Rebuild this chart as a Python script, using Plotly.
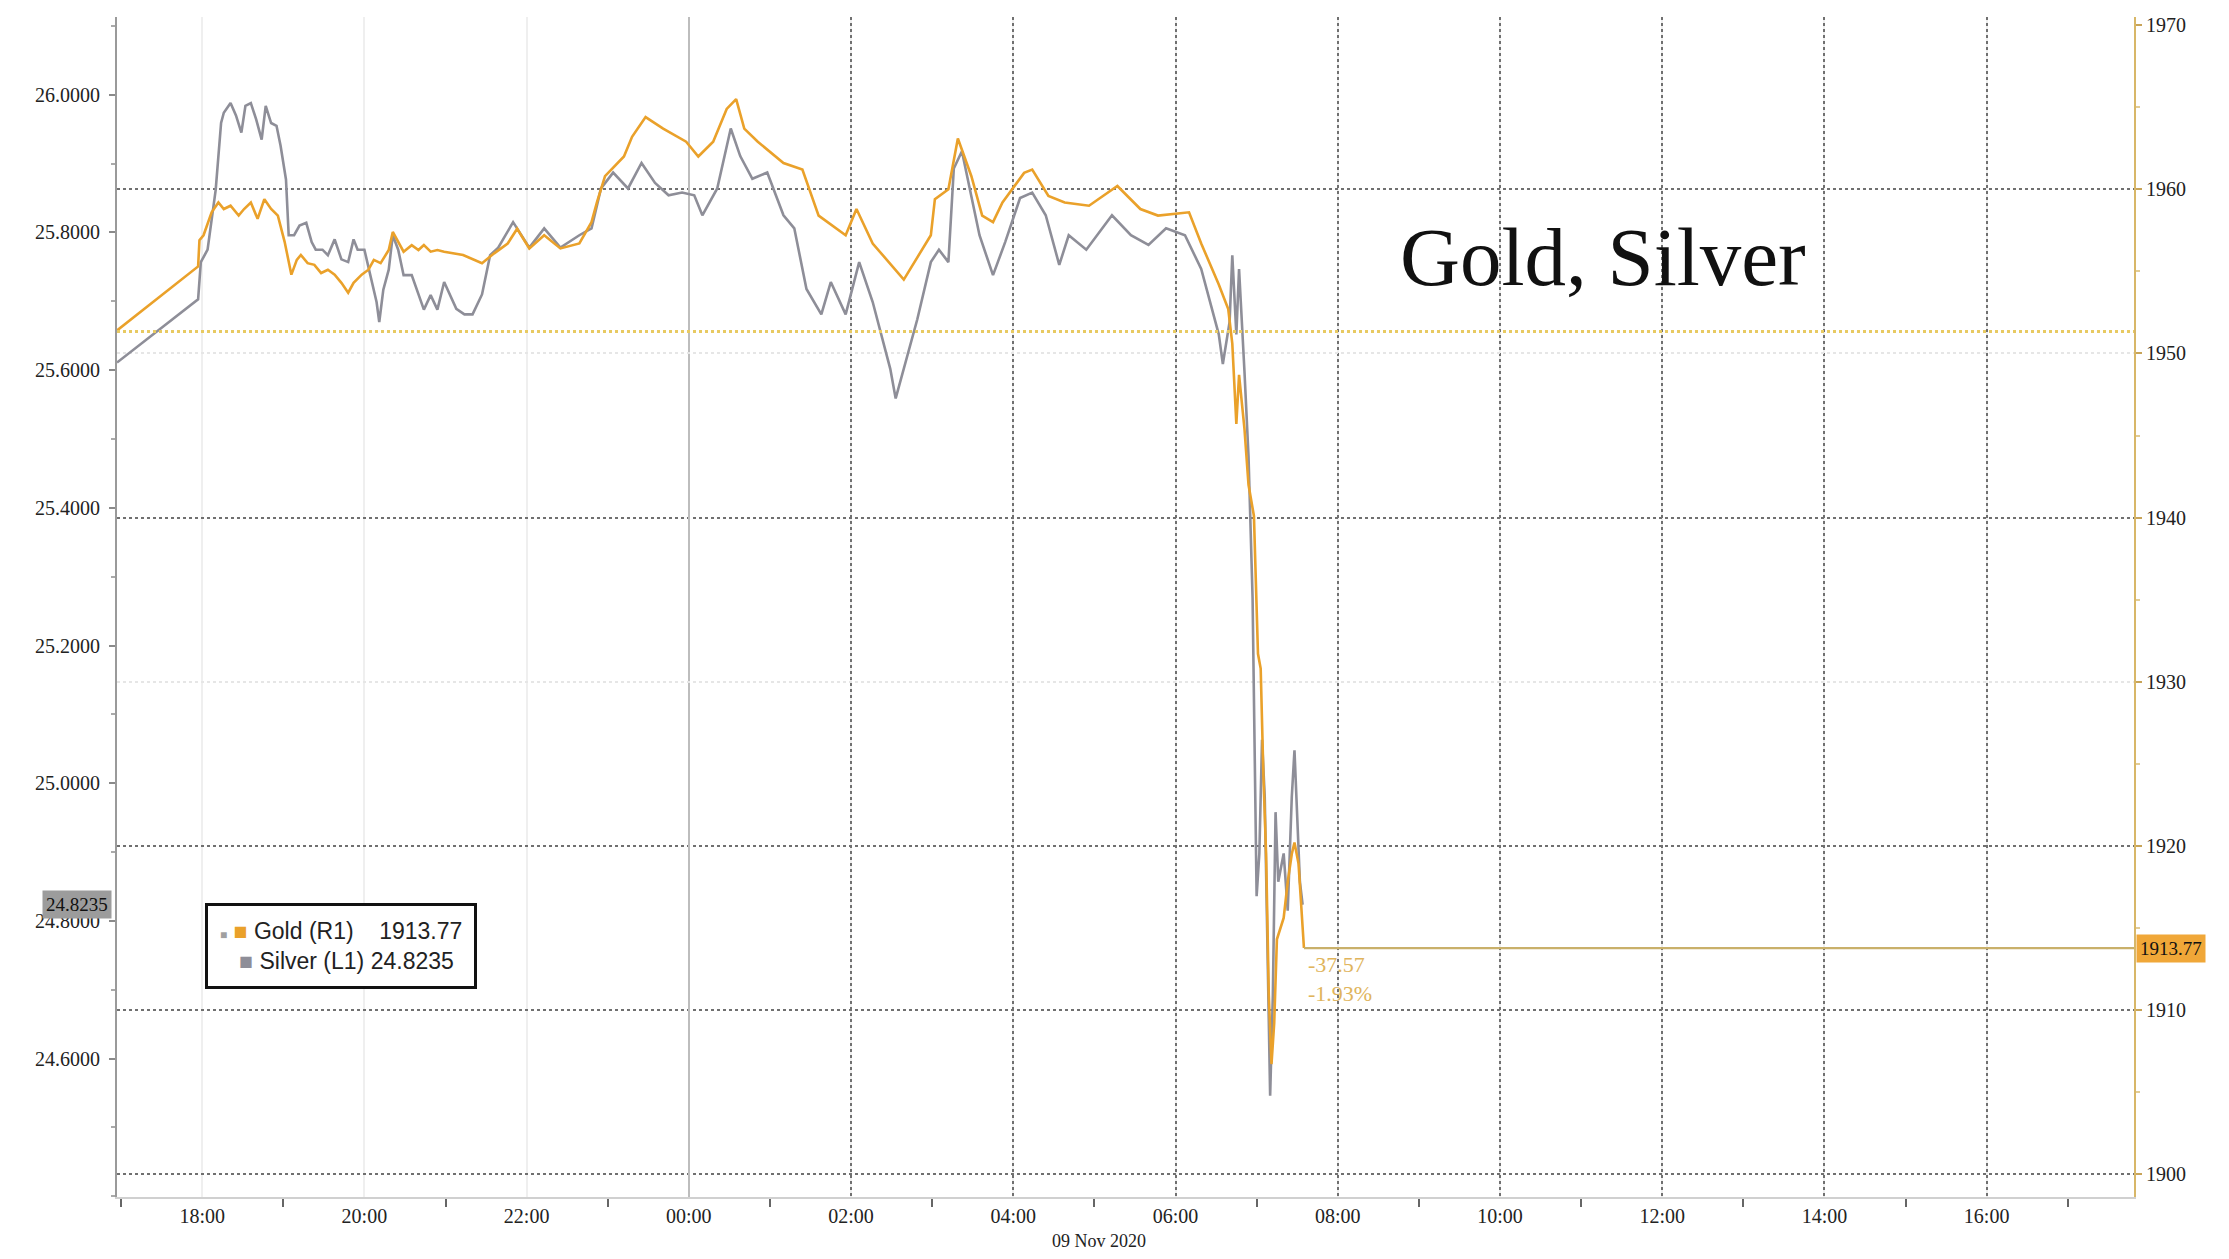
import plotly.graph_objects as go

# ---------------- data ----------------
gold_time = [
    "2020-11-08 16:57", "2020-11-08 17:57", "2020-11-08 17:58", "2020-11-08 18:01", "2020-11-08 18:07",
    "2020-11-08 18:12", "2020-11-08 18:16", "2020-11-08 18:21", "2020-11-08 18:27", "2020-11-08 18:31",
    "2020-11-08 18:36", "2020-11-08 18:41", "2020-11-08 18:46", "2020-11-08 18:51", "2020-11-08 18:56",
    "2020-11-08 19:01", "2020-11-08 19:06", "2020-11-08 19:10", "2020-11-08 19:13", "2020-11-08 19:18",
    "2020-11-08 19:23", "2020-11-08 19:28", "2020-11-08 19:33", "2020-11-08 19:38", "2020-11-08 19:43",
    "2020-11-08 19:48", "2020-11-08 19:52", "2020-11-08 19:58", "2020-11-08 20:03", "2020-11-08 20:07",
    "2020-11-08 20:12", "2020-11-08 20:18", "2020-11-08 20:21", "2020-11-08 20:25", "2020-11-08 20:29",
    "2020-11-08 20:35", "2020-11-08 20:40", "2020-11-08 20:44", "2020-11-08 20:49", "2020-11-08 20:54",
    "2020-11-08 20:59", "2020-11-08 21:13", "2020-11-08 21:27", "2020-11-08 21:36", "2020-11-08 21:46",
    "2020-11-08 21:53", "2020-11-08 22:02", "2020-11-08 22:13", "2020-11-08 22:25", "2020-11-08 22:39",
    "2020-11-08 22:48", "2020-11-08 22:52", "2020-11-08 22:58", "2020-11-08 23:12", "2020-11-08 23:18",
    "2020-11-08 23:28", "2020-11-08 23:41", "2020-11-08 23:58", "2020-11-09 00:07", "2020-11-09 00:18",
    "2020-11-09 00:28", "2020-11-09 00:35", "2020-11-09 00:41", "2020-11-09 00:51", "2020-11-09 01:01",
    "2020-11-09 01:10", "2020-11-09 01:24", "2020-11-09 01:36", "2020-11-09 01:56", "2020-11-09 02:04",
    "2020-11-09 02:16", "2020-11-09 02:39", "2020-11-09 02:59", "2020-11-09 03:02", "2020-11-09 03:12",
    "2020-11-09 03:19", "2020-11-09 03:29", "2020-11-09 03:37", "2020-11-09 03:45", "2020-11-09 03:52",
    "2020-11-09 04:08", "2020-11-09 04:14", "2020-11-09 04:26", "2020-11-09 04:38", "2020-11-09 04:56",
    "2020-11-09 05:17", "2020-11-09 05:34", "2020-11-09 05:47", "2020-11-09 06:10", "2020-11-09 06:19",
    "2020-11-09 06:32", "2020-11-09 06:39", "2020-11-09 06:42", "2020-11-09 06:45", "2020-11-09 06:47",
    "2020-11-09 06:51", "2020-11-09 06:54", "2020-11-09 06:58", "2020-11-09 07:01", "2020-11-09 07:03",
    "2020-11-09 07:05", "2020-11-09 07:07", "2020-11-09 07:09", "2020-11-09 07:11", "2020-11-09 07:13",
    "2020-11-09 07:15", "2020-11-09 07:20", "2020-11-09 07:23", "2020-11-09 07:26", "2020-11-09 07:28",
    "2020-11-09 07:31", "2020-11-09 07:33", "2020-11-09 07:35",
]
gold_value = [
    1951.4, 1955.3, 1956.9, 1957.2, 1958.6,
    1959.2, 1958.8, 1959.0, 1958.4, 1958.8,
    1959.2, 1958.2, 1959.4, 1958.8, 1958.4,
    1956.8, 1954.8, 1955.7, 1956.0, 1955.5,
    1955.4, 1954.9, 1955.1, 1954.8, 1954.3,
    1953.7, 1954.3, 1954.8, 1955.1, 1955.7,
    1955.5, 1956.3, 1957.4, 1956.8, 1956.2,
    1956.6, 1956.3, 1956.6, 1956.2, 1956.3,
    1956.2, 1956.0, 1955.5, 1956.1, 1956.7,
    1957.6, 1956.4, 1957.2, 1956.4, 1956.7,
    1958.0, 1959.2, 1960.8, 1962.0, 1963.2,
    1964.4, 1963.7, 1962.9, 1962.0, 1962.9,
    1964.9, 1965.5, 1963.7, 1962.9, 1962.2,
    1961.6, 1961.2, 1958.4, 1957.2, 1958.8,
    1956.7, 1954.5, 1957.2, 1959.4, 1960.0,
    1963.1, 1960.8, 1958.4, 1958.0, 1959.2,
    1961.0, 1961.2, 1959.6, 1959.2, 1959.0,
    1960.2, 1958.8, 1958.4, 1958.6, 1956.7,
    1954.2, 1952.7, 1950.6, 1945.7, 1948.7,
    1945.4, 1942.0, 1940.1, 1931.7, 1930.8,
    1924.3, 1919.5, 1910.9, 1906.7, 1909.2,
    1914.3, 1915.6, 1917.8, 1919.5, 1920.2,
    1918.9, 1916.2, 1913.77,
]

silver_time = [
    "2020-11-08 16:57", "2020-11-08 17:57", "2020-11-08 17:59", "2020-11-08 18:04", "2020-11-08 18:10",
    "2020-11-08 18:14", "2020-11-08 18:16", "2020-11-08 18:21", "2020-11-08 18:25", "2020-11-08 18:29",
    "2020-11-08 18:32", "2020-11-08 18:36", "2020-11-08 18:40", "2020-11-08 18:44", "2020-11-08 18:47",
    "2020-11-08 18:51", "2020-11-08 18:55", "2020-11-08 18:58", "2020-11-08 19:02", "2020-11-08 19:04",
    "2020-11-08 19:08", "2020-11-08 19:12", "2020-11-08 19:17", "2020-11-08 19:21", "2020-11-08 19:24",
    "2020-11-08 19:29", "2020-11-08 19:33", "2020-11-08 19:38", "2020-11-08 19:43", "2020-11-08 19:48",
    "2020-11-08 19:52", "2020-11-08 19:55", "2020-11-08 20:00", "2020-11-08 20:05", "2020-11-08 20:09",
    "2020-11-08 20:11", "2020-11-08 20:14", "2020-11-08 20:18", "2020-11-08 20:21", "2020-11-08 20:25",
    "2020-11-08 20:29", "2020-11-08 20:35", "2020-11-08 20:40", "2020-11-08 20:44", "2020-11-08 20:49",
    "2020-11-08 20:54", "2020-11-08 20:59", "2020-11-08 21:08", "2020-11-08 21:14", "2020-11-08 21:20",
    "2020-11-08 21:27", "2020-11-08 21:33", "2020-11-08 21:39", "2020-11-08 21:50", "2020-11-08 22:02",
    "2020-11-08 22:13", "2020-11-08 22:25", "2020-11-08 22:39", "2020-11-08 22:48", "2020-11-08 22:55",
    "2020-11-08 23:04", "2020-11-08 23:15", "2020-11-08 23:25", "2020-11-08 23:35", "2020-11-08 23:45",
    "2020-11-08 23:55", "2020-11-09 00:04", "2020-11-09 00:10", "2020-11-09 00:21", "2020-11-09 00:31",
    "2020-11-09 00:38", "2020-11-09 00:47", "2020-11-09 00:58", "2020-11-09 01:10", "2020-11-09 01:18",
    "2020-11-09 01:27", "2020-11-09 01:38", "2020-11-09 01:45", "2020-11-09 01:56", "2020-11-09 02:06",
    "2020-11-09 02:16", "2020-11-09 02:29", "2020-11-09 02:33", "2020-11-09 02:39", "2020-11-09 02:49",
    "2020-11-09 02:59", "2020-11-09 03:05", "2020-11-09 03:12", "2020-11-09 03:16", "2020-11-09 03:22",
    "2020-11-09 03:29", "2020-11-09 03:35", "2020-11-09 03:45", "2020-11-09 03:54", "2020-11-09 04:05",
    "2020-11-09 04:14", "2020-11-09 04:24", "2020-11-09 04:34", "2020-11-09 04:41", "2020-11-09 04:54",
    "2020-11-09 05:13", "2020-11-09 05:27", "2020-11-09 05:40", "2020-11-09 05:53", "2020-11-09 06:07",
    "2020-11-09 06:19", "2020-11-09 06:32", "2020-11-09 06:35", "2020-11-09 06:40", "2020-11-09 06:42",
    "2020-11-09 06:45", "2020-11-09 06:47", "2020-11-09 06:51", "2020-11-09 06:54", "2020-11-09 06:57",
    "2020-11-09 06:59", "2020-11-09 07:00", "2020-11-09 07:02", "2020-11-09 07:04", "2020-11-09 07:06",
    "2020-11-09 07:08", "2020-11-09 07:10", "2020-11-09 07:12", "2020-11-09 07:14", "2020-11-09 07:16",
    "2020-11-09 07:20", "2020-11-09 07:23", "2020-11-09 07:26", "2020-11-09 07:28", "2020-11-09 07:30",
    "2020-11-09 07:32", "2020-11-09 07:34",
]
silver_value = [
    25.611, 25.703, 25.757, 25.775, 25.862,
    25.959, 25.974, 25.988, 25.970, 25.945,
    25.984, 25.988, 25.964, 25.935, 25.984,
    25.959, 25.955, 25.926, 25.877, 25.796,
    25.796, 25.810, 25.814, 25.786, 25.775,
    25.775, 25.767, 25.790, 25.761, 25.757,
    25.790, 25.775, 25.775, 25.732, 25.699,
    25.670, 25.717, 25.746, 25.796, 25.775,
    25.738, 25.738, 25.709, 25.688, 25.709,
    25.688, 25.728, 25.689, 25.681, 25.681,
    25.710, 25.767, 25.778, 25.815, 25.778,
    25.806, 25.778, 25.796, 25.806, 25.864,
    25.887, 25.864, 25.901, 25.872, 25.854,
    25.858, 25.854, 25.825, 25.864, 25.951,
    25.911, 25.878, 25.887, 25.825, 25.806,
    25.718, 25.681, 25.728, 25.681, 25.757,
    25.699, 25.602, 25.559, 25.602, 25.674,
    25.757, 25.775, 25.757, 25.893, 25.918,
    25.854, 25.796, 25.738, 25.786, 25.850,
    25.858, 25.825, 25.753, 25.796, 25.775,
    25.825, 25.796, 25.782, 25.806, 25.796,
    25.747, 25.652, 25.609, 25.670, 25.767,
    25.652, 25.747, 25.598, 25.475, 25.269,
    24.980, 24.836, 24.898, 25.063, 24.980,
    24.733, 24.546, 24.692, 24.958, 24.857,
    24.898, 24.815, 24.980, 25.048, 24.939,
    24.857, 24.8235,
]

gold_prev_close = 1951.34
x_start = "2020-11-08 16:57"
x_end = "2020-11-09 17:49"

tick_times = ["2020-11-08 18:00", "2020-11-08 20:00", "2020-11-08 22:00", "2020-11-09 00:00",
              "2020-11-09 02:00", "2020-11-09 04:00", "2020-11-09 06:00", "2020-11-09 08:00",
              "2020-11-09 10:00", "2020-11-09 12:00", "2020-11-09 14:00", "2020-11-09 16:00"]
tick_labels = ["18:00", "20:00", "22:00", "00:00", "02:00", "04:00", "06:00", "08:00",
               "10:00", "12:00", "14:00", "16:00"]
minor_times = ["2020-11-08 17:00", "2020-11-08 19:00", "2020-11-08 21:00", "2020-11-08 23:00",
               "2020-11-09 01:00", "2020-11-09 03:00", "2020-11-09 05:00", "2020-11-09 07:00",
               "2020-11-09 09:00", "2020-11-09 11:00", "2020-11-09 13:00", "2020-11-09 15:00",
               "2020-11-09 17:00"]
dotted_vgrid = tick_times[4:]
midnight = [tick_times[3]]

left_ticks = [24.6, 24.8, 25.0, 25.2, 25.4, 25.6, 25.8, 26.0]
right_ticks = [1900, 1910, 1920, 1930, 1940, 1950, 1960, 1970]
dotted_hgrid = [1900, 1910, 1920, 1940, 1960]
faint_hgrid = [1930, 1950]

left_range = [24.399, 26.113]
right_range = [1898.6, 1970.5]

GOLD = "#EAA12A"
SILVER = "#8E8E98"
TICKFONT = dict(family="Liberation Serif, serif", size=20, color="#222222")

gold_last = gold_value[-1]
silver_last = silver_value[-1]
chg = gold_last - gold_prev_close
pct = chg / gold_prev_close * 100

fig = go.Figure()

fig.add_trace(go.Scatter(x=silver_time, y=silver_value, xaxis="x", yaxis="y", mode="lines",
                         name="Silver (L1)", line=dict(color=SILVER, width=2.6),
                         showlegend=False))
# previous close reference (carries the dotted grid axes)
fig.add_trace(go.Scatter(x=[x_start, x_end], y=[gold_prev_close, gold_prev_close],
                         xaxis="x2", yaxis="y3", mode="lines",
                         line=dict(color="#E8CA62", width=3, dash="dot"),
                         hoverinfo="skip", showlegend=False))
# last price line (carries the midnight / faint grid axes)
fig.add_trace(go.Scatter(x=[gold_time[-1], x_end], y=[gold_last, gold_last],
                         xaxis="x3", yaxis="y4", mode="lines",
                         line=dict(color="#C9B06A", width=2.2),
                         hoverinfo="skip", showlegend=False))
fig.add_trace(go.Scatter(x=gold_time, y=gold_value, xaxis="x", yaxis="y2", mode="lines",
                         name="Gold (R1)", line=dict(color=GOLD, width=2.6),
                         showlegend=False))

# page body has an 8px margin: shrink the figure so the plot lands where the reference has it
fig.update_layout(
    width=2213, height=1243,
    margin=dict(l=109, r=87, t=6, b=54),
    paper_bgcolor="white", plot_bgcolor="white",
    showlegend=False,
    xaxis=dict(type="date", range=[x_start, x_end],
               tickmode="array", tickvals=tick_times, ticktext=tick_labels,
               ticks="", showgrid=True, gridcolor="#EFEFEF", gridwidth=2, zeroline=False,
               showline=True, linecolor="#D0D0D0", linewidth=1.5,
               tickfont=TICKFONT,
               minor=dict(tickmode="array", tickvals=minor_times, ticks="outside",
                          ticklen=8, tickwidth=1.5, tickcolor="#666666", showgrid=False)),
    xaxis2=dict(type="date", overlaying="x", anchor="y", range=[x_start, x_end],
                tickmode="array", tickvals=dotted_vgrid, showticklabels=False, ticks="",
                showgrid=True, gridcolor="#707070", gridwidth=2, griddash="dot",
                showline=False, zeroline=False),
    xaxis3=dict(type="date", overlaying="x", anchor="y", range=[x_start, x_end],
                tickmode="array", tickvals=midnight, showticklabels=False, ticks="",
                showgrid=True, gridcolor="#BDBDBD", gridwidth=1.5,
                showline=False, zeroline=False),
    yaxis=dict(range=left_range, tickmode="array", tickvals=left_ticks,
               ticktext=[f"{v:.4f}" for v in left_ticks],
               showgrid=False, zeroline=False,
               showline=True, linecolor="#9A9A9A", linewidth=2,
               ticks="outside", ticklen=6, tickwidth=1.5, tickcolor="#8A8A8A",
               ticklabelstandoff=5, tickfont=TICKFONT,
               minor=dict(dtick=0.1, ticks="outside", ticklen=4, tickcolor="#AAAAAA", showgrid=False)),
    yaxis2=dict(range=right_range, overlaying="y", side="right", anchor="x",
                tickmode="array", tickvals=right_ticks, ticktext=[str(v) for v in right_ticks],
                showgrid=False, zeroline=False,
                showline=True, linecolor="#D8B768", linewidth=2,
                ticks="outside", ticklen=6, tickwidth=1.5, tickcolor="#C8A458",
                tickfont=TICKFONT,
                minor=dict(dtick=5, ticks="outside", ticklen=4, tickcolor="#E2CC95", showgrid=False)),
    yaxis3=dict(range=right_range, overlaying="y", side="right", anchor="x",
                tickmode="array", tickvals=dotted_hgrid, showticklabels=False, ticks="",
                showgrid=True, gridcolor="#707070", gridwidth=2, griddash="dot",
                showline=False, zeroline=False),
    yaxis4=dict(range=right_range, overlaying="y", side="right", anchor="x",
                tickmode="array", tickvals=faint_hgrid, showticklabels=False, ticks="",
                showgrid=True, gridcolor="#E6E6E6", gridwidth=2, griddash="dot",
                showline=False, zeroline=False),
)

annotations = [
    dict(text="Gold, Silver", xref="paper", yref="paper", x=0.635, y=0.797,
         xanchor="left", yanchor="middle", showarrow=False,
         font=dict(family="Liberation Serif, serif", size=83, color="#111111")),
    dict(text="09 Nov 2020", xref="paper", yref="paper", x=0.487, y=-0.037,
         xanchor="center", yanchor="middle", showarrow=False,
         font=dict(family="Liberation Serif, serif", size=18, color="#222222")),
    dict(text=f"{silver_last:.4f}", xref="paper", yref="y", x=0, y=silver_last,
         xanchor="right", yanchor="middle", xshift=-5, showarrow=False,
         bgcolor="#9C9C9C", borderpad=3,
         font=dict(family="Liberation Serif, serif", size=19, color="#111111")),
    dict(text=f"{gold_last:.2f}", xref="paper", yref="y2", x=1, y=gold_last,
         xanchor="left", yanchor="middle", xshift=2, showarrow=False,
         bgcolor="#F0A738", borderpad=3,
         font=dict(family="Liberation Serif, serif", size=19, color="#111111")),
    dict(text=f"{chg:.2f}<br>{pct:.2f}%", xref="x", yref="y2", x=gold_time[-1], y=gold_last,
         xanchor="left", yanchor="top", xshift=2, yshift=-2, showarrow=False, align="left",
         font=dict(family="Liberation Serif, serif", size=22, color="#E0B45C")),
    dict(text=(f"<span style='color:#A0A0A0;font-size:12px'>■</span> "
               f"<span style='color:{GOLD}'>■</span> Gold (R1)&nbsp;&nbsp;&nbsp;&nbsp;{gold_last:.2f}<br>"
               f"&nbsp;&nbsp;&nbsp;<span style='color:{SILVER}'>■</span> Silver (L1) {silver_last:.4f}"),
         xref="paper", yref="paper", x=0.0437, y=0.2488,
         xanchor="left", yanchor="top", showarrow=False, align="left",
         bgcolor="white", bordercolor="#111111", borderwidth=3, borderpad=12,
         font=dict(family="Liberation Sans Narrow, Liberation Sans, sans-serif", size=23, color="#222222")),
]
fig.update_layout(annotations=annotations)

fig.write_html("out.html")
